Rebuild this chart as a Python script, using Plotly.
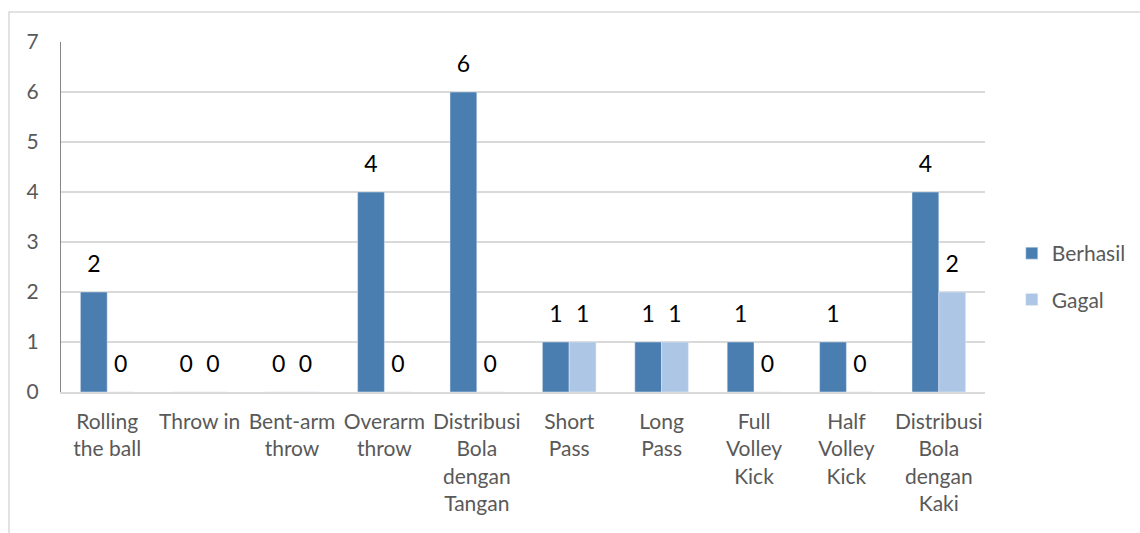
import plotly.graph_objects as go

categories = ["Rolling<br>the ball", "Throw in", "Bent-arm<br>throw", "Overarm<br>throw",
              "Distribusi<br>Bola<br>dengan<br>Tangan", "Short<br>Pass", "Long<br>Pass",
              "Full<br>Volley<br>Kick", "Half<br>Volley<br>Kick",
              "Distribusi<br>Bola<br>dengan<br>Kaki"]
berhasil = [2, 0, 0, 4, 6, 1, 1, 1, 1, 4]
gagal = [0, 0, 0, 0, 0, 1, 1, 0, 0, 2]
y_ticks = [0, 1, 2, 3, 4, 5, 6, 7]

FONT = "Lato"
LABEL_FONT = dict(color="black", size=23, family=FONT)
GAP = 0.42

fig = go.Figure()
series = [("Berhasil", berhasil, "#4A7EB0", "a"), ("Gagal", gagal, "#ADC6E5", "b")]
for name, vals, color, grp in series:
    fig.add_trace(go.Bar(name=name, x=categories, y=vals, marker_color=color,
                         offsetgroup=grp, legendgroup=grp))
for name, vals, color, grp in series:
    fig.add_trace(go.Scatter(x=categories, y=vals, mode="markers+text", text=vals,
                             textposition="top center", textfont=LABEL_FONT,
                             marker=dict(size=22, opacity=0), offsetgroup=grp,
                             showlegend=False, hoverinfo="skip", cliponaxis=False))

fig.update_layout(
    width=1140, height=533,
    margin=dict(l=61, r=155, t=42, b=141, autoexpand=False),
    paper_bgcolor="white", plot_bgcolor="white",
    barmode="group", bargap=GAP, bargroupgap=0,
    scattermode="group", scattergap=GAP,
    font=dict(family=FONT, size=21, color="#595959"),
    legend=dict(x=1.029, y=0.33, xanchor="left", yanchor="middle",
                font=dict(size=21, color="#595959"), traceorder="grouped",
                tracegroupgap=16, itemwidth=30),
    shapes=[dict(type="rect", xref="paper", yref="paper",
                 x0=-52/924, x1=1.3, y0=-0.6, y1=(392-12)/350,
                 line=dict(color="#D9D9D9", width=1.5), fillcolor="rgba(0,0,0,0)", layer="below")],
)
fig.update_xaxes(showline=True, linecolor="#D9D9D9", linewidth=1.5, tickfont=dict(size=21, color="#595959"),
                 ticks="", ticklabelstandoff=10)
fig.update_yaxes(range=[0, 7], tickvals=y_ticks, showgrid=True, gridcolor="#D9D9D9", gridwidth=1.5,
                 showline=True, linecolor="#868686", linewidth=1.2, zeroline=False,
                 ticks="", ticklabelstandoff=17, tickfont=dict(size=21, color="#595959"))

fig.write_html("out.html")
